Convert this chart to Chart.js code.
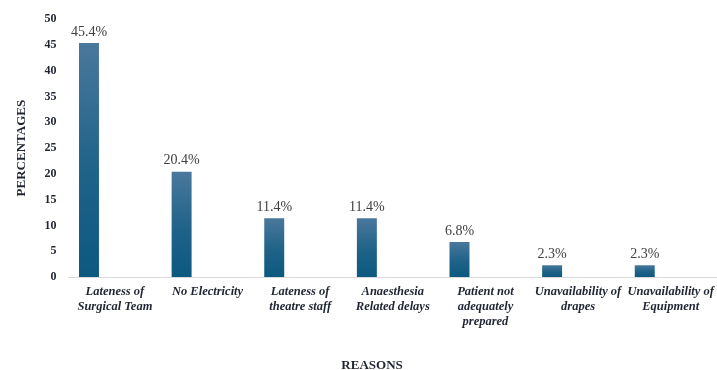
<!DOCTYPE html>
<html>
<head>
<meta charset="utf-8">
<script src="https://cdn.jsdelivr.net/npm/chart.js@4.4.1/dist/chart.umd.min.js"></script>
<style>
  html, body { margin: 0; padding: 0; background: #ffffff; }
  #wrap { width: 717px; height: 370px; }
</style>
</head>
<body>
<div id="wrap"><canvas id="c" width="717" height="370"></canvas></div>
<script>
// Reasons for delayed theatre start and their share (%)
const categories = [
  ['Lateness of', 'Surgical Team'],
  ['No Electricity'],
  ['Lateness of', 'theatre staff'],
  ['Anaesthesia', 'Related delays'],
  ['Patient not', 'adequately', 'prepared'],
  ['Unavailability of', 'drapes'],
  ['Unavailability of', 'Equipment']
];
const percentages = [45.4, 20.4, 11.4, 11.4, 6.8, 2.3, 2.3];
const emptySeries = [null, null, null, null, null, null, null];
const yTicks = [0, 5, 10, 15, 20, 25, 30, 35, 40, 45, 50];

const SERIF = '"Liberation Serif", "Times New Roman", serif';

// vertical gradient per bar, from its top down to the zero line
function barFill(ctx) {
  const chart = ctx.chart;
  const y = chart.scales && chart.scales.y;
  if (!y || !chart.chartArea || ctx.raw == null) return '#1f6288';
  const top = y.getPixelForValue(ctx.raw);
  const base = y.getPixelForValue(0);
  const g = chart.ctx.createLinearGradient(0, top, 0, base);
  g.addColorStop(0, '#4a789c');
  g.addColorStop(0.55, '#1f6288');
  g.addColorStop(1, '#0c5980');
  return g;
}

// value labels printed above each bar
const valueLabels = {
  id: 'valueLabels',
  afterDatasetsDraw(chart) {
    const meta = chart.getDatasetMeta(0);
    const c = chart.ctx;
    c.save();
    c.font = '14px ' + SERIF;
    c.fillStyle = '#404040';
    c.textAlign = 'center';
    c.textBaseline = 'bottom';
    meta.data.forEach((bar, i) => {
      c.fillText(percentages[i].toFixed(1) + '%', bar.x, bar.y - 4);
    });
    c.restore();
  }
};

// category axis title under the labels
const reasonsTitle = {
  id: 'reasonsTitle',
  afterDraw(chart) {
    const a = chart.chartArea;
    const c = chart.ctx;
    c.save();
    c.font = 'bold 13px ' + SERIF;
    c.fillStyle = '#1f2533';
    c.textAlign = 'center';
    c.textBaseline = 'middle';
    c.fillText('REASONS', a.left + (a.right - a.left) * 0.468, chart.height - 4);
    c.restore();
  }
};

new Chart(document.getElementById('c'), {
  type: 'bar',
  data: {
    labels: categories,
    datasets: [
      {
        label: 'Percentage',
        data: percentages,
        backgroundColor: barFill,
        borderWidth: 0,
        categoryPercentage: 1.12,
        barPercentage: 0.385
      },
      {
        label: '',
        data: emptySeries,
        backgroundColor: 'rgba(0,0,0,0)',
        categoryPercentage: 1.12,
        barPercentage: 0.385
      }
    ]
  },
  options: {
    responsive: false,
    animation: false,
    devicePixelRatio: 1,
    layout: { padding: { left: 10, right: -2, top: 10, bottom: 34 } },
    plugins: {
      legend: { display: false },
      tooltip: { enabled: false },
      title: { display: false }
    },
    scales: {
      x: {
        // let the outer labels run to the canvas edge
        afterFit(scale) { scale.paddingLeft = 0; scale.paddingRight = 0; },
        grid: { display: false, drawTicks: false },
        border: { display: true, color: '#d9d9d9', width: 1 },
        ticks: {
          maxRotation: 0,
          autoSkip: false,
          padding: 7,
          color: '#1f2533',
          font: { family: SERIF, size: 12.5, weight: 'bold', style: 'italic', lineHeight: 1.2 }
        }
      },
      y: {
        min: 0,
        max: 50,
        afterBuildTicks(scale) { scale.ticks = yTicks.map(v => ({ value: v })); },
        grid: { display: false, drawTicks: false },
        border: { display: false },
        ticks: {
          padding: 12,
          color: '#1f2533',
          font: { family: SERIF, size: 12, weight: 'bold' }
        },
        title: {
          display: true,
          text: 'PERCENTAGES',
          color: '#1f2533',
          padding: { top: 4, bottom: 3 },
          font: { family: SERIF, size: 13, weight: 'bold' }
        }
      }
    }
  },
  plugins: [valueLabels, reasonsTitle]
});
</script>
</body>
</html>
